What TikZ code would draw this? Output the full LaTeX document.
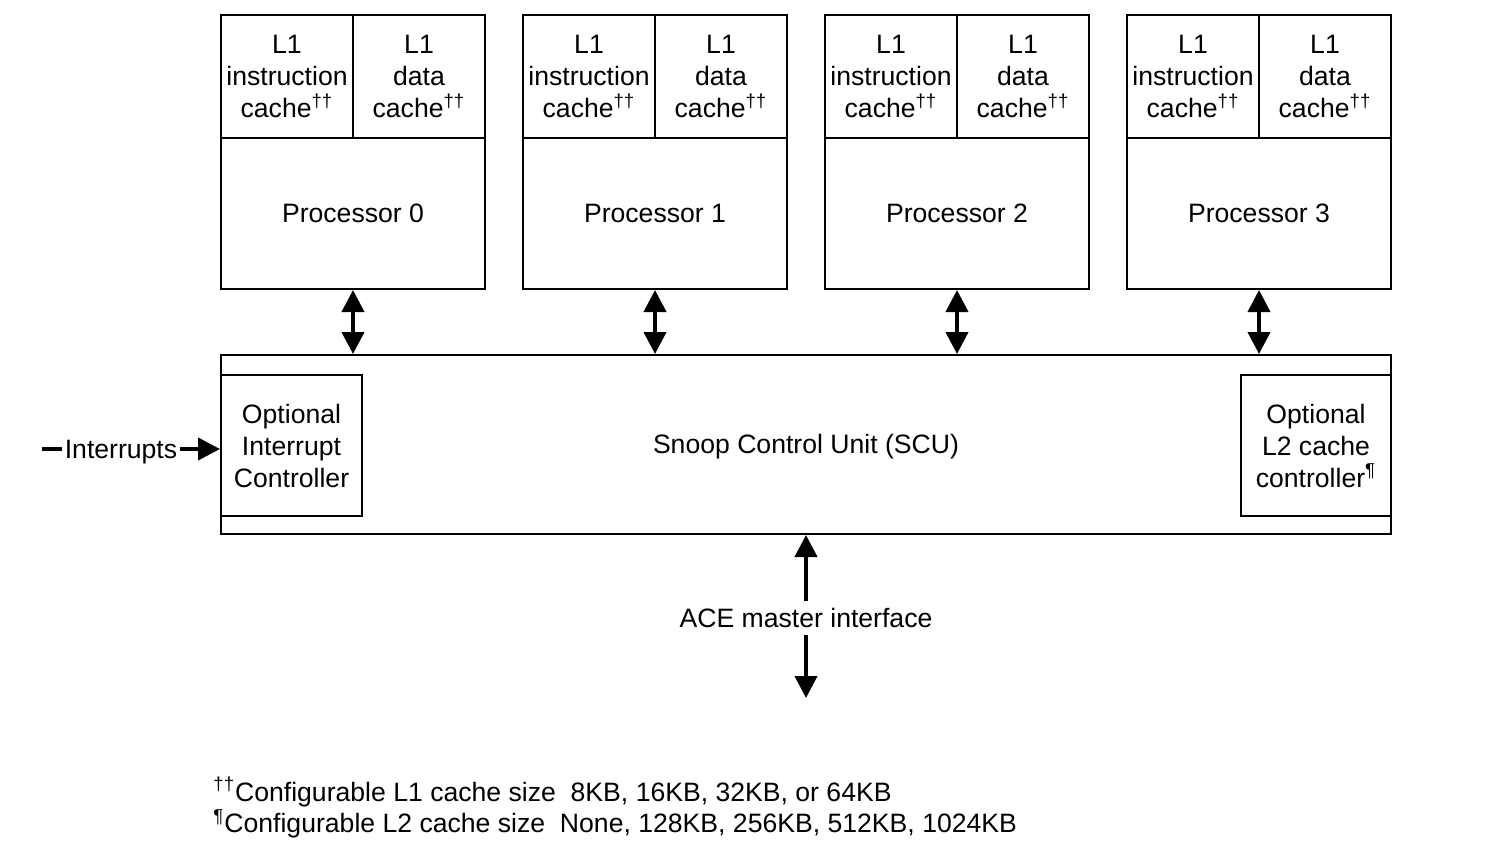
\documentclass[tikz,border=0pt]{standalone}
\usepackage{fontspec}
\setmainfont{Liberation Sans}
\usetikzlibrary{positioning,arrows.meta}
\tikzstyle{cachebox} = [rectangle, draw=black, line width=1pt, minimum width=66pt, minimum height=61.5pt, align=center, inner sep=0pt]
\tikzstyle{cpubox} = [rectangle, draw=black, line width=1pt, minimum width=132pt, minimum height=75.5pt, align=center]
\tikzstyle{scubox} = [rectangle, draw=black, line width=1pt, minimum width=585pt, minimum height=89.5pt, align=center]
\tikzstyle{optbox} = [rectangle, draw=black, line width=1pt, minimum height=70.5pt, align=center, inner sep=0pt]
\tikzstyle{arrow} = [-{Triangle[length=11pt,width=11pt]}, line width=2pt]
\tikzstyle{dblarrow} = [{Triangle[length=11pt,width=11pt]}-{Triangle[length=11pt,width=11pt]}, line width=2pt]
\newcommand{\dg}{\textsuperscript{††}}

\begin{document}
\begin{tikzpicture}[x=0.5pt,y=-0.5pt,font=\fontsize{13.3pt}{16pt}\selectfont]
	\useasboundingbox (0,0) rectangle (1498,862);
	
	\foreach \i in {0,1,2,3} {
		\node (cpu\i) [cpubox] at (353+302*\i,213.5) {Processor \i};
		\node (icache\i) [cachebox] at (287+302*\i,76.5) {L1\\instruction\\cache\dg};
		\node (dcache\i) [cachebox] at (419+302*\i,76.5) {L1\\data\\cache\dg};
	}
	
	\node (scu) [scubox] at (806,444.5) {};
	\node (scutext) at (806,447) {Snoop Control Unit (SCU)};
	\node (gic) [optbox,minimum width=70.5pt] at (291.5,445.5) {Optional\\Interrupt\\Controller};
	\node (l2c) [optbox,minimum width=75pt] at (1316,445.5) {Optional\\L2 cache\\controller\textsuperscript{¶}};
	
	\foreach \i in {0,1,2,3}
		\draw [dblarrow] (cpu\i.south) -- (cpu\i.south |- scu.north);
	
	% interrupts in
	\node (irq) [inner sep=1pt] at (121,452) {Interrupts};
	\coordinate (irqin) at (42,449);
	\draw [line width=2pt] (irqin) -- (irqin -| irq.west);
	\draw [arrow] (irq.east |- irqin) -- (irqin -| gic.west);
	
	% ACE master port
	\node (ace) at (806,618) {ACE master interface};
	\coordinate (aceout) at (806,698);
	\draw [arrow] (ace.north) -- (scu.south);
	\draw [arrow] (ace.south) -- (aceout);
	
	\node (note1) [anchor=west,inner sep=0pt] at (213,792) {\dg Configurable L1 cache size\ \ 8KB, 16KB, 32KB, or 64KB};
	\node (note2) [anchor=west,inner sep=0pt] at (213,824) {\textsuperscript{¶}Configurable L2 cache size\ \ None, 128KB, 256KB, 512KB, 1024KB};
\end{tikzpicture}
\end{document}
